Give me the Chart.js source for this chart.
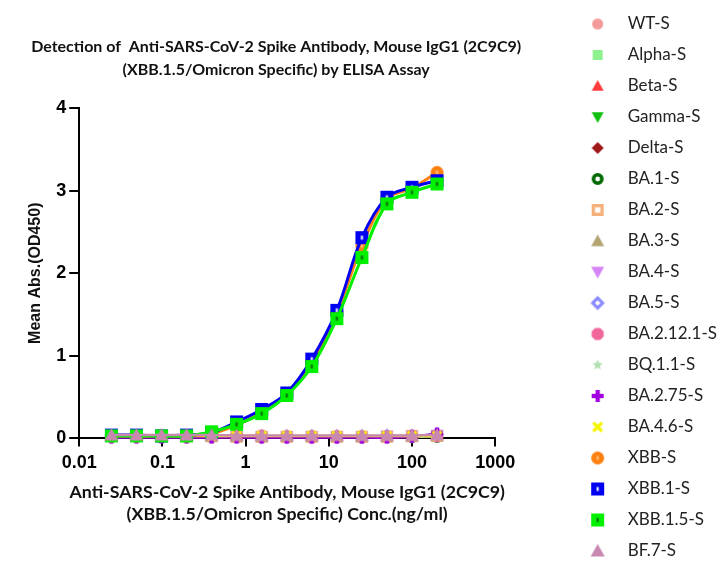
<!DOCTYPE html>
<html>
<head>
<meta charset="utf-8">
<script src="https://cdn.jsdelivr.net/npm/chart.js@4.4.1/dist/chart.umd.min.js"></script>
<style>
  html, body { margin: 0; padding: 0; background: #fff; }
</style>
</head>
<body>
<canvas id="elisaChart" width="722" height="575"></canvas>
<script>
// concentration (ng/ml), 2-fold dilution
const conc = [0.0244, 0.0488, 0.0977, 0.195, 0.39, 0.78, 1.56, 3.125, 6.25, 12.5, 25, 50, 100, 200];

// OD450 per antigen
const wtS     = [0.03, 0.03, 0.03, 0.03, 0.03, 0.03, 0.02, 0.02, 0.02, 0.02, 0.02, 0.02, 0.02, 0.03];
const alphaS  = [0.03, 0.03, 0.03, 0.03, 0.03, 0.02, 0.02, 0.02, 0.02, 0.02, 0.02, 0.02, 0.03, 0.03];
const betaS   = [0.04, 0.03, 0.03, 0.03, 0.03, 0.03, 0.02, 0.02, 0.02, 0.02, 0.02, 0.02, 0.02, 0.03];
const gammaS  = [0.03, 0.03, 0.03, 0.03, 0.02, 0.02, 0.02, 0.02, 0.02, 0.02, 0.02, 0.02, 0.02, 0.02];
const deltaS  = [0.03, 0.03, 0.03, 0.02, 0.02, 0.02, 0.02, 0.02, 0.02, 0.02, 0.02, 0.02, 0.02, 0.03];
const ba1S    = [0.03, 0.03, 0.02, 0.02, 0.02, 0.02, 0.02, 0.02, 0.02, 0.02, 0.02, 0.02, 0.02, 0.02];
const ba2S    = [0.04, 0.03, 0.03, 0.03, 0.03, 0.02, 0.02, 0.02, 0.02, 0.02, 0.02, 0.02, 0.03, 0.03];
const ba3S    = [0.03, 0.03, 0.03, 0.03, 0.02, 0.02, 0.02, 0.02, 0.02, 0.02, 0.02, 0.02, 0.02, 0.03];
const ba4S    = [0.03, 0.03, 0.03, 0.03, 0.03, 0.02, 0.02, 0.02, 0.02, 0.02, 0.02, 0.03, 0.03, 0.04];
const ba5S    = [0.03, 0.03, 0.03, 0.03, 0.03, 0.03, 0.02, 0.02, 0.02, 0.02, 0.02, 0.03, 0.03, 0.05];
const ba2121S = [0.03, 0.03, 0.03, 0.03, 0.03, 0.03, 0.03, 0.02, 0.02, 0.02, 0.02, 0.02, 0.03, 0.03];
const bq11S   = [0.03, 0.03, 0.03, 0.03, 0.02, 0.02, 0.02, 0.02, 0.02, 0.02, 0.02, 0.02, 0.02, 0.03];
const ba275S  = [0.01, 0.01, 0.01, 0.01, 0.01, 0.01, 0.01, 0.01, 0.01, 0.01, 0.01, 0.01, 0.02, 0.06];
const ba46S   = [0.04, 0.03, 0.03, 0.03, 0.03, 0.03, 0.03, 0.03, 0.03, 0.03, 0.03, 0.03, 0.03, 0.03];
const xbbS    = [0.03, 0.03, 0.03, 0.03, 0.06, 0.16, 0.32, 0.54, 0.93, 1.52, 2.33, 2.90, 3.03, 3.22];
const xbb1S   = [0.04, 0.04, 0.03, 0.04, 0.07, 0.20, 0.35, 0.55, 0.96, 1.55, 2.43, 2.92, 3.04, 3.12];
const xbb15S  = [0.03, 0.03, 0.03, 0.03, 0.08, 0.17, 0.30, 0.52, 0.87, 1.45, 2.19, 2.84, 2.98, 3.08];
const bf7S    = [0.04, 0.04, 0.04, 0.04, 0.04, 0.035, 0.035, 0.035, 0.035, 0.035, 0.035, 0.035, 0.035, 0.04];

const seriesNames = ['WT-S', 'Alpha-S', 'Beta-S', 'Gamma-S', 'Delta-S', 'BA.1-S', 'BA.2-S', 'BA.3-S', 'BA.4-S',
  'BA.5-S', 'BA.2.12.1-S', 'BQ.1.1-S', 'BA.2.75-S', 'BA.4.6-S', 'XBB-S', 'XBB.1-S', 'XBB.1.5-S', 'BF.7-S'];
const seriesValues = [wtS, alphaS, betaS, gammaS, deltaS, ba1S, ba2S, ba3S, ba4S,
  ba5S, ba2121S, bq11S, ba275S, ba46S, xbbS, xbb1S, xbb15S, bf7S];

const xTickValues = [0.01, 0.1, 1, 10, 100, 1000];
const xTickLabels = ['0.01', '0.1', '1', '10', '100', '1000'];

const titleLines = ['Detection of  Anti-SARS-CoV-2 Spike Antibody, Mouse IgG1 (2C9C9)', '(XBB.1.5/Omicron Specific) by ELISA Assay'];
const xTitleLines = ['Anti-SARS-CoV-2 Spike Antibody, Mouse IgG1 (2C9C9)', '(XBB.1.5/Omicron Specific) Conc.(ng/ml)'];
const yTitle = 'Mean Abs.(OD450)';

// marker look: [shape, colour, size, inner dot]
const markerStyles = [
  ['circle', '#f49a9a', 11],
  ['square', '#8ef08e', 10],
  ['triangle', '#ff3b3b', 12],
  ['triangleDown', '#10c010', 12],
  ['diamond', '#a01818', 12],
  ['ring', '#006a00', 12],
  ['hollowSquare', '#f5b07c', 12],
  ['triangle', '#b4a474', 13],
  ['triangleDown', '#d585f5', 13],
  ['hollowDiamond', '#8a8aff', 13],
  ['octagon', '#f0659a', 13],
  ['star', '#b0e0b0', 11],
  ['plus', '#a000e0', 12],
  ['cross', '#f5f500', 11],
  ['circle', '#ff8010', 13, '#ffc080'],
  ['square', '#0000f0', 13, '#ffffff'],
  ['square', '#00f000', 13, '#106010'],
  ['triangle', '#c888b0', 14]
];

// 記号を小さなキャンバスに描く
function makeMarker(shape, color, size, inner) {
  const s = size + 4;
  const cv = document.createElement('canvas');
  cv.width = s; cv.height = s;
  const g = cv.getContext('2d');
  const c = s / 2, r = size / 2;
  g.fillStyle = color;
  g.strokeStyle = color;
  g.beginPath();
  if (shape === 'circle') {
    g.arc(c, c, r, 0, 2 * Math.PI); g.fill();
  } else if (shape === 'square') {
    g.rect(c - r, c - r, size, size); g.fill();
  } else if (shape === 'triangle' || shape === 'triangleDown') {
    const d = shape === 'triangle' ? 1 : -1;
    g.moveTo(c, c - d * r);
    g.lineTo(c + r, c + d * r * 0.8);
    g.lineTo(c - r, c + d * r * 0.8);
    g.closePath(); g.fill();
  } else if (shape === 'diamond') {
    g.moveTo(c, c - r); g.lineTo(c + r, c); g.lineTo(c, c + r); g.lineTo(c - r, c);
    g.closePath(); g.fill();
  } else if (shape === 'ring') {
    g.lineWidth = size * 0.3;
    g.arc(c, c, r - g.lineWidth / 2, 0, 2 * Math.PI); g.stroke();
  } else if (shape === 'hollowSquare') {
    g.lineWidth = size * 0.28;
    const h = r - g.lineWidth / 2;
    g.strokeRect(c - h, c - h, 2 * h, 2 * h);
  } else if (shape === 'hollowDiamond') {
    g.lineWidth = size * 0.24;
    const h = r - g.lineWidth / 2;
    g.moveTo(c, c - h); g.lineTo(c + h, c); g.lineTo(c, c + h); g.lineTo(c - h, c);
    g.closePath(); g.stroke();
  } else if (shape === 'octagon') {
    for (let k = 0; k < 8; k++) {
      const a = Math.PI / 8 + k * Math.PI / 4;
      g.lineTo(c + r * Math.cos(a), c + r * Math.sin(a));
    }
    g.closePath(); g.fill();
  } else if (shape === 'star') {
    for (let k = 0; k < 10; k++) {
      const a = -Math.PI / 2 + k * Math.PI / 5;
      const rr = k % 2 ? r * 0.45 : r;
      g.lineTo(c + rr * Math.cos(a), c + rr * Math.sin(a));
    }
    g.closePath(); g.fill();
  } else if (shape === 'plus') {
    const w = size * 0.36;
    g.fillRect(c - w / 2, c - r, w, size);
    g.fillRect(c - r, c - w / 2, size, w);
  } else if (shape === 'cross') {
    g.lineWidth = size * 0.3;
    const h = r * 0.8;
    g.moveTo(c - h, c - h); g.lineTo(c + h, c + h);
    g.moveTo(c + h, c - h); g.lineTo(c - h, c + h);
    g.stroke();
  }
  if (inner) {
    g.fillStyle = inner;
    g.fillRect(c - 1, c - 2, 2, 4);
  }
  return cv;
}

const markers = markerStyles.map(m => makeMarker(m[0], m[1], m[2], m[3]));
const mainCurves = ['XBB-S', 'XBB.1-S', 'XBB.1.5-S'];

const datasets = seriesNames.map((name, i) => ({
  label: name,
  data: conc.map((x, j) => ({ x: x, y: seriesValues[i][j] })),
  borderColor: markerStyles[i][1],
  backgroundColor: markerStyles[i][1],
  borderWidth: mainCurves.includes(name) ? 3 : 2.5,
  pointStyle: markers[i],
  pointRadius: 6,
  tension: 0.35,
  clip: false,
  order: seriesNames.length - 1 - i
}));

// 題名がプロット幅で縮まないように / x軸タイトルを描く
const titlesPlugin = {
  id: 'titlesPlugin',
  afterLayout(chart) {
    const t = chart.titleBlock;
    t.left -= 90;
    t.right += 68;
  },
  afterDraw(chart) {
    const { ctx, chartArea } = chart;
    const cx = (chartArea.left + chartArea.right) / 2;
    ctx.save();
    ctx.font = 'bold 17.75px Lato';
    ctx.fillStyle = '#111';
    ctx.textAlign = 'center';
    ctx.textBaseline = 'middle';
    xTitleLines.forEach((line, i) => ctx.fillText(line, cx, chartArea.bottom + 54 + i * 22));
    ctx.restore();
  }
};

const ctx = document.getElementById('elisaChart').getContext('2d');

const elisaChart = new Chart(ctx, {
  type: 'line',
  data: { datasets: datasets },
  plugins: [titlesPlugin],
  options: {
    responsive: false,
    animation: false,
    events: [],
    layout: { padding: { left: 20, bottom: 0, top: 0, right: -5 } },
    plugins: {
      tooltip: { enabled: false },
      title: {
        display: true,
        fullSize: false,
        text: titleLines,
        color: '#111',
        font: { family: 'Lato', weight: 'bold', size: 16, lineHeight: 1.4375 },
        padding: { top: 35, bottom: 27 }
      },
      legend: {
        position: 'right',
        align: 'center',
        maxWidth: 220,
        labels: {
          usePointStyle: true,
          pointStyleWidth: 43,
          boxHeight: 17,
          padding: 14,
          color: '#222',
          font: { family: 'Lato', size: 17 },
          generateLabels(chart) {
            const items = Chart.defaults.plugins.legend.labels.generateLabels(chart);
            items.forEach(it => { it.pointStyle = markers[it.datasetIndex]; });
            return items;
          },
          sort: (a, b) => a.datasetIndex - b.datasetIndex
        }
      }
    },
    scales: {
      x: {
        type: 'logarithmic',
        min: 0.01,
        max: 1000,
        afterBuildTicks: s => { s.ticks = xTickValues.map(v => ({ value: v })); },
        afterFit: s => { s.height += 95; },
        ticks: {
          callback: (v, i) => xTickLabels[i],
          autoSkip: false,
          maxRotation: 0,
          padding: 6,
          color: '#000',
          font: { family: 'Liberation Sans', weight: 'bold', size: 18 }
        },
        grid: { drawOnChartArea: false, tickLength: 8, color: '#000', lineWidth: 2 },
        border: { color: '#000', width: 2 }
      },
      y: {
        min: 0,
        max: 4,
        ticks: {
          stepSize: 1,
          padding: 3,
          color: '#000',
          font: { family: 'Liberation Sans', weight: 'bold', size: 18 }
        },
        grid: { drawOnChartArea: false, tickLength: 10, color: '#000', lineWidth: 2 },
        border: { color: '#000', width: 2 },
        title: {
          display: true,
          text: yTitle,
          color: '#111',
          font: { family: 'Liberation Sans', weight: 'bold', size: 16 },
          padding: { top: 6, bottom: 8 }
        }
      },
      // 右側の余白用
      gap: {
        position: 'right',
        display: true,
        grid: { display: false },
        ticks: { display: false },
        border: { display: false },
        afterFit: s => { s.width = 67; }
      }
    }
  }
});
</script>
</body>
</html>
